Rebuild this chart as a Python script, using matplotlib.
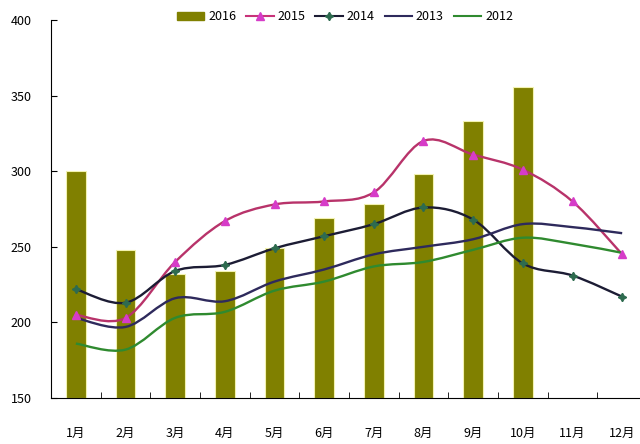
"""
2012-2016 月度数据：柱状图 + 平滑折线
"""
import numpy as np
import matplotlib
matplotlib.use("Agg")
import matplotlib.pyplot as plt
from matplotlib.path import Path
from matplotlib.patches import PathPatch
from matplotlib.lines import Line2D
from matplotlib.patches import Patch

plt.rcParams['font.family'] = ['Noto Sans CJK SC', 'DejaVu Sans']

months = ['1月', '2月', '3月', '4月', '5月', '6月', '7月', '8月', '9月', '10月', '11月', '12月']
y2016 = [300, 248, 232, 234, 249, 269, 278, 298, 333, 356]
y2015 = [205, 203, 240, 267, 278, 280, 286, 320, 311, 301, 280, 245]
y2014 = [222, 213, 234, 238, 249, 257, 265, 276, 268, 239, 231, 217]
y2013 = [203, 197, 216, 214, 227, 235, 245, 250, 255, 265, 263, 259]
y2012 = [186, 182, 203, 207, 221, 227, 237, 240, 248, 256, 252, 246]


def smooth_path(x, y, t=1 / 6):
    # Excel 风格的平滑线 (贝塞尔控制点)
    x = np.asarray(x, float)
    y = np.asarray(y, float)
    verts = [(x[0], y[0])]
    codes = [Path.MOVETO]
    n = len(x)
    for i in range(n - 1):
        p0 = i - 1 if i > 0 else i
        p3 = i + 2 if i + 2 < n else i + 1
        c1 = (x[i] + (x[i + 1] - x[p0]) * t, y[i] + (y[i + 1] - y[p0]) * t)
        c2 = (x[i + 1] - (x[p3] - x[i]) * t, y[i + 1] - (y[p3] - y[i]) * t)
        verts += [c1, c2, (x[i + 1], y[i + 1])]
        codes += [Path.CURVE4] * 3
    return Path(verts, codes)


fig = plt.figure(figsize=(6.4, 4.44), dpi=100)
ax = fig.add_axes([51 / 640, 46 / 444, 596 / 640, 378 / 444])

x = np.arange(len(months))
bar_c = '#808000'
ax.bar(x[:len(y2016)], np.array(y2016) - 150, bottom=150, width=0.4,
       color=bar_c, edgecolor='#f2f2b0', linewidth=0.8, zorder=1)

series = [
    (y2015, '#b8336a', '^', '#d63cc8', '2015'),
    (y2014, '#1c1c34', (4, 1, 0), '#2e6b4f', '2014'),
    (y2013, '#2e2a5c', None, None, '2013'),
    (y2012, '#2f8a2f', None, None, '2012'),
]
for ys, lc, mk, mc, lab in series:
    ax.add_patch(PathPatch(smooth_path(x, ys), fill=False, edgecolor=lc,
                           linewidth=1.7, zorder=3))
    if mk is not None:
        ax.plot(x, ys, linestyle='none', marker=mk, markersize=6,
                color=mc, zorder=4)

ax.set_xlim(-0.5, 11.5)
ax.set_ylim(150, 400)
ax.set_yticks([150, 200, 250, 300, 350, 400])
ax.tick_params(axis='y', direction='in', length=4, labelsize=9, pad=14)
ax.set_xticks(x)
ax.set_xticklabels(months, fontsize=9)
ax.set_xticks(np.arange(0.5, 11.5, 1), minor=True)
ax.tick_params(axis='x', which='major', length=0, pad=21)
ax.tick_params(axis='x', which='minor', direction='in', length=4)
for s in ['top', 'right']:
    ax.spines[s].set_visible(False)

handles = [
    Patch(color=bar_c, label='2016'),
    Line2D([], [], color='#c8337a', marker='^', markerfacecolor='#d63cc8',
           markeredgecolor='#d63cc8', markersize=6, label='2015'),
    Line2D([], [], color='#1c1c34', marker=(4, 1, 0), markerfacecolor='#2e6b4f',
           markeredgecolor='#2e6b4f', markersize=6, label='2014'),
    Line2D([], [], color='#2e2a5c', label='2013'),
    Line2D([], [], color='#2f8a2f', label='2012'),
]
fig.legend(handles=handles, loc='center', bbox_to_anchor=(345 / 640, 1 - 17 / 444),
           ncol=5, frameon=False, fontsize=9, handlelength=2.2,
           columnspacing=0.8, handletextpad=0.3)

fig.savefig('out.png', dpi=100)
